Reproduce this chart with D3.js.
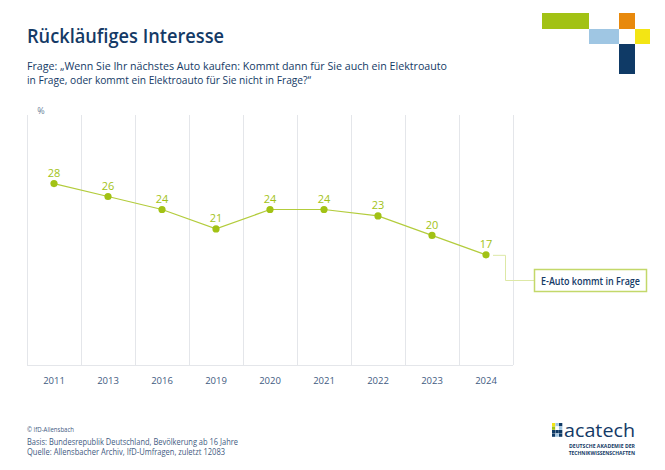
<!DOCTYPE html>
<html><head><meta charset="utf-8">
<script src="https://cdn.jsdelivr.net/npm/d3@7"></script>
<style>
html,body{margin:0;padding:0;background:#fff;}
svg{display:block;font-family:"Open Sans","Noto Sans",sans-serif;}
</style></head>
<body>
<svg id="c" width="665" height="470"></svg>
<script>
const years = ["2011","2013","2016","2019","2020","2021","2022","2023","2024"];
const values = [28,26,24,21,24,24,23,20,17];
const seriesName = "E-Auto kommt in Frage";
const titleText = "Rückläufiges Interesse";
const subtitleLines = ["Frage: „Wenn Sie Ihr nächstes Auto kaufen: Kommt dann für Sie auch ein Elektroauto",
                       "in Frage, oder kommt ein Elektroauto für Sie nicht in Frage?“"];
const footerLines = ["Basis: Bundesrepublik Deutschland, Bevölkerung ab 16 Jahre",
                     "Quelle: Allensbacher Archiv, IfD-Umfragen, zuletzt 12083"];

const navy = "#143a66", green = "#a2c214", lineGreen = "#b3cc3c", grid = "#e4e6ea", axisText = "#3f5b7f";
const svg = d3.select("#c");

function fit(sel, w){ sel.each(function(){ const l=this.getComputedTextLength(); if(Math.abs(l-w)>1){ d3.select(this).attr("textLength", w).attr("lengthAdjust","spacingAndGlyphs"); } }); }

// title
svg.append("text").attr("x",27).attr("y",43).attr("fill",navy).attr("font-size",20).attr("font-weight",600)
  .text(titleText).call(fit,197);
// subtitle
const subW=[420,284];
subtitleLines.forEach((t,i)=>{
  svg.append("text").attr("x",27).attr("y",70+i*14).attr("fill",navy).attr("font-size",11.5)
    .text(t).call(fit,subW[i]);
});

// logo squares
const logo = [[542,13,47,16,"#a2c214"],[589,29,30,15,"#9fc6e3"],[619,13,16,16,"#e8890c"],[635,29,15,15,"#f3e514"],[619,44,16,30,"#0f3a66"]];
svg.append("g").selectAll("rect").data(logo).join("rect")
  .attr("x",d=>d[0]).attr("y",d=>d[1]).attr("width",d=>d[2]).attr("height",d=>d[3]).attr("fill",d=>d[4]);

// chart
const x = d3.scaleBand().domain(years).range([27,513]).padding(0);
const y = d3.scaleLinear().domain([0,40]).range([365,105.8]);
const g = svg.append("g");
const edges = years.map(d=>x(d)).concat([x.range()[1]]);
g.selectAll("line.grid").data(edges).join("line").attr("class","grid")
  .attr("x1",d=>d+0.5).attr("x2",d=>d+0.5).attr("y1",115).attr("y2",y(0)).attr("stroke",grid).attr("stroke-width",1);
g.append("line").attr("x1",27).attr("x2",513).attr("y1",y(0)+0.5).attr("y2",y(0)+0.5).attr("stroke",grid);

const xAxis = d3.axisBottom(x).tickSize(0).tickPadding(0);
const ax = g.append("g").attr("transform",`translate(0,${y(0)})`).call(xAxis);
ax.select(".domain").remove();
ax.selectAll("text").attr("y",16).attr("dy","0.35em").attr("fill",axisText).attr("font-size",9.5).attr("font-family","Open Sans, sans-serif");

svg.append("text").attr("x",41).attr("y",114).attr("text-anchor","middle").attr("fill","#6b7f99").attr("font-size",9).text("%");

const cx = d=>x(d)+x.bandwidth()/2;
const data = years.map((yr,i)=>({yr, v:values[i]}));
g.append("path").datum(data).attr("fill","none").attr("stroke",lineGreen).attr("stroke-width",1.2)
  .attr("d", d3.line().x(d=>cx(d.yr)).y(d=>y(d.v)));
g.selectAll("circle").data(data).join("circle").attr("cx",d=>cx(d.yr)).attr("cy",d=>y(d.v)).attr("r",3.6).attr("fill",green);
g.selectAll("text.val").data(data).join("text").attr("class","val")
  .attr("x",d=>cx(d.yr)).attr("y",d=>y(d.v)-6.5).attr("text-anchor","middle").attr("fill",green).attr("font-size",11)
  .text(d=>d.v);

// legend label with connector
const last = data[data.length-1];
const lx = cx(last.yr), ly = y(last.v);
g.append("path").attr("fill","none").attr("stroke","#dde8a6").attr("stroke-width",1)
  .attr("d",`M${lx+7},${ly+0.5}H${505.5}V${280.5}H534`);
g.append("rect").attr("x",534.5).attr("y",269.5).attr("width",112).attr("height",22).attr("fill","#fff").attr("stroke","#c3d86a").attr("stroke-width",1.5);
g.append("text").attr("x",541).attr("y",284.5).attr("fill",navy).attr("font-size",10).attr("font-weight",600).text(seriesName).call(fit,99);

// footer
svg.append("text").attr("x",27).attr("y",432).attr("fill",axisText).attr("font-size",6.5).text("© IfD-Allensbach").call(fit,47);
footerLines.forEach((t,i)=>{
  svg.append("text").attr("x",27).attr("y",445+i*10).attr("fill",axisText).attr("font-size",8.5).text(t).call(fit,[211,198][i]);
});

// acatech logo
const lg = svg.append("g");
const cells = [[552,423,"#f3e514"],[555.5,423,"#9fc6e3"],[559,423,"#0f3a66"],[552,426.5,"#a2c214"],[555.5,426.5,"#fff"],[559,426.5,"#9fc6e3"],[552,430,"#0f3a66"],[555.5,430,"#0f3a66"],[559,430,"#0f3a66"],[552,433.5,"#0f3a66"],[555.5,433.5,"#9fc6e3"],[559,433.5,"#0f3a66"]];
lg.selectAll("rect").data(cells).join("rect").attr("x",d=>d[0]).attr("y",d=>d[1]).attr("width",3.3).attr("height",3.3).attr("fill",d=>d[2]);
lg.append("text").attr("x",564).attr("y",437).attr("fill",navy).attr("font-size",18).attr("font-weight",500).text("acatech").call(fit,71);
lg.append("text").attr("x",635).attr("y",448).attr("text-anchor","end").attr("fill",navy).attr("font-size",5).attr("font-weight",700).text("DEUTSCHE AKADEMIE DER").call(fit,66);
lg.append("text").attr("x",635).attr("y",455).attr("text-anchor","end").attr("fill",navy).attr("font-size",5).attr("font-weight",700).text("TECHNIKWISSENSCHAFTEN").call(fit,66);
</script>
</body></html>
